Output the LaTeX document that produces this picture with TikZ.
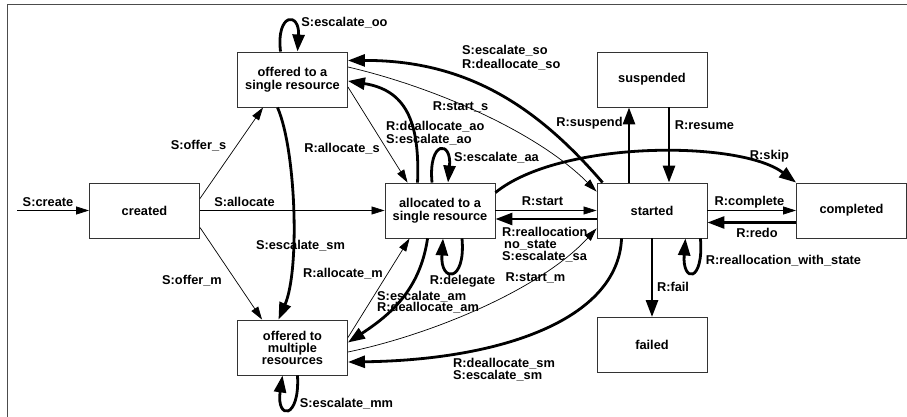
\documentclass[tikz,border=0pt]{standalone}
\usepackage{fontspec}
\setmainfont{Liberation Sans}
\usetikzlibrary{arrows.meta,calc}
\newcommand\mylf[1]{\fontsize{12.8}{#1}\selectfont\bfseries}
\begin{document}
\begin{tikzpicture}[x=1pt,y=-1pt,
  box/.style={draw=black!80, line width=0.9pt, minimum width=110pt, minimum height=55pt, inner sep=0pt, align=center, font=\mylf{13}},
  thinarr/.style={line width=0.7pt, -{Triangle[length=13pt,width=8pt]}},
  thickarr/.style={line width=2.8pt, -{Triangle[length=17pt,width=12pt]}},
  lbl/.style={inner sep=0pt, font=\mylf{13}, text height=9.2pt, text depth=0pt},
  mlbl/.style={inner sep=0pt, align=left, anchor=north west}]
\useasboundingbox (0,0) rectangle (907,417);
\draw[black!70, line width=0.9pt] (907,4) -- (7,4) -- (7,417);
% states
\node[box] (os) at (292.5,79.5) {offered to a\\single resource};
\node[box] (cr) at (144.5,210.5) {created};
\node[box] (al) at (440,210.5) {allocated to a\\single resource};
\node[box] (st) at (652,210.5) {started};
\node[box] (su) at (652,79.5) {suspended};
\node[box] (co) at (851.5,210.5) {completed};
\node[box] (fa) at (652,345) {failed};
\node[box, font=\mylf{12}] (om) at (292.5,347.5) {offered to\\multiple\\resources};
\coordinate (s0) at (17,210.5);
% connectors
\draw[thinarr] (s0) -- (cr.west);
\draw[thinarr] ($(cr.north east)+(0,16)$) -- ($(os.south west)+(26,0)$);
\draw[thinarr] (cr.east) -- (al.west);
\draw[thinarr] ($(cr.south east)+(0,-11)$) -- ($(om.north west)+(25,0)$);
\draw[thickarr] ($(os.south)+(-15,0)$) .. controls (296,150) and (300,270) .. ($(om.north)+(-14,0)$);
\draw[thinarr] ($(os.east)+(0,7.5)$) -- ($(al.north west)+(23,0)$);
\draw[thickarr] ($(al.north west)+(33,0)$) .. controls (420,120) and (405,90) .. ($(os.east)+(0,1.5)$);
\draw[thickarr] ($(al.north)+(-8,0)$) .. controls (428,140) and (452,140) .. ($(al.north)+(8,0)$);
\draw[thinarr] ($(os.east)+(0,-12.5)$) .. controls (430,86) and (535,130) .. ($(st.north west)+(0,9)$);
\draw[thickarr] ($(st.north west)+(6,0)$) .. controls (540,110) and (470,60) .. ($(os.east)+(0,-19)$);
\draw[thickarr] ($(st.north)+(-23,0)$) -- ($(su.south)+(-23,0)$);
\draw[thickarr] ($(su.south)+(17,0)$) -- ($(st.north)+(17,0)$);
\draw[thickarr] ($(al.north east)+(0,10)$) .. controls (560,140) and (740,140) .. (co.north west);
\draw[thinarr] (al.east) -- (st.west);
\draw[thickarr] ($(st.west)+(0,8.5)$) -- ($(al.east)+(0,8.5)$);
\draw[thinarr] ($(om.east)+(0,4.5)$) .. controls (430,335) and (540,290) .. ($(st.south west)+(0,-10)$);
\draw[thinarr] ($(om.east)+(0,-10)$) -- ($(al.south west)+(25,0)$);
\draw[thickarr] ($(al.south west)+(43,0)$) .. controls (420,290) and (390,315) .. ($(om.east)+(0,-5)$);
\draw[thickarr] ($(al.south)+(22,0)$) .. controls (466,283) and (440,283) .. ($(al.south)+(3,0)$);
\draw[thickarr] ($(st.south west)+(25,0)$) .. controls (618,320) and (500,360) .. ($(om.east)+(0,14.5)$);
\draw[thickarr] (st.south) -- (fa.north);
\draw[thickarr] ($(st.south east)+(-7,0)$) .. controls (704,283) and (682,283) .. ($(st.south east)+(-22,0)$);
\draw[thinarr] (st.east) -- (co.west);
\draw[thickarr] ($(co.west)+(0,12)$) -- ($(st.east)+(0,12)$);
\draw[thickarr] ($(os.north)+(-12,0)$) .. controls (276,12) and (300,12) .. ($(os.north)+(5,0)$);
\draw[thickarr] ($(om.south)+(5,0)$) .. controls (300,420) and (276,420) .. ($(om.south)+(-10,0)$);
% labels
\node[lbl] (l1) at (48,202) {S:create};
\node[lbl] (l2) at (198.5,145) {S:offer\_s};
\node[lbl] (l3) at (244.5,202) {S:allocate};
\node[lbl] (l4) at (192,280) {S:offer\_m};
\node[lbl] (l5) at (300.5,245) {S:escalate\_sm};
\node[lbl] (l6) at (342,148) {R:allocate\_s};
\node[lbl] (l7) at (496.5,157) {S:escalate\_aa};
\node[lbl] (l8) at (460.5,106) {R:start\_s};
\node[lbl] (l9) at (589.5,122) {R:suspend};
\node[lbl] (l10) at (704.5,125) {R:resume};
\node[lbl] (l11) at (769.5,155) {R:skip};
\node[lbl] (l12) at (542.5,201) {R:start};
\node[lbl] (l13) at (535.5,277) {R:start\_m};
\node[lbl] (l14) at (343,273) {R:allocate\_m};
\node[lbl] (l15) at (462.5,280) {R:delegate};
\node[lbl] (l16) at (673,287) {R:fail};
\node[lbl] (l17) at (783.5,260) {R:reallocation\_with\_state};
\node[lbl] (l18) at (749.5,201) {R:complete};
\node[lbl] (l19) at (757,233) {R:redo};
\node[lbl] (l20) at (344.5,22) {S:escalate\_oo};
\node[lbl] (l21) at (346.5,403) {S:escalate\_mm};
\node[mlbl, font=\mylf{14}] (m1) at (462,45.5) {S:escalate\_so\\R:deallocate\_so};
\node[mlbl, font=\mylf{13}] (m2) at (386,121.4) {R:deallocate\_ao\\S:escalate\_ao};
\node[mlbl, font=\mylf{12}] (m3) at (502,227.4) {R:reallocation\\\hspace*{2pt}no\_state\\S:escalate\_sa};
\node[mlbl, font=\mylf{11}] (m4) at (377,291.4) {S:escalate\_am\\R:deallocate\_am};
\node[mlbl, font=\mylf{12}] (m5) at (453,358.4) {R:deallocate\_sm\\S:escalate\_sm};
\end{tikzpicture}
\end{document}
